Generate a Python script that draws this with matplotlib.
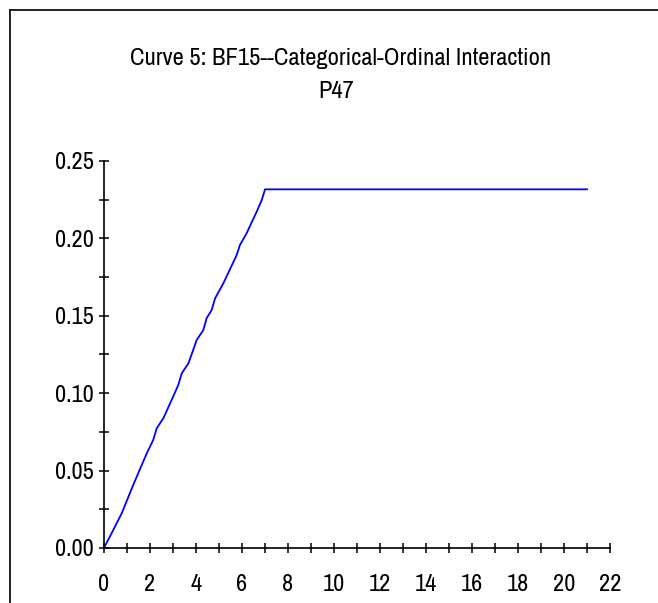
import numpy as np
import matplotlib
matplotlib.use("Agg")
import matplotlib.pyplot as plt
from matplotlib.lines import Line2D
from matplotlib.ticker import MultipleLocator

plt.rcParams['font.family'] = ['Archivo Narrow', 'Liberation Sans', 'DejaVu Sans']

# curve values
x_vals = [0.0, 0.26, 0.77, 1.27, 1.86, 2.14, 2.29, 2.58, 3.01, 3.23, 3.38, 3.67,
          3.88, 4.03, 4.32, 4.46, 4.68, 4.83, 5.19, 5.77, 5.91, 6.2, 6.64, 6.86, 7.0, 21.0]
y_vals = [0.0, 0.0075, 0.0224, 0.0407, 0.0612, 0.0698, 0.0773, 0.0838, 0.0979, 0.1053,
          0.1128, 0.1193, 0.128, 0.1344, 0.1408, 0.1484, 0.1537, 0.1613, 0.171, 0.1893,
          0.1957, 0.2033, 0.2173, 0.2248, 0.2317, 0.2317]
title1 = "Curve 5: BF15--Categorical-Ordinal Interaction"
title2 = "P47"

W, H = 658, 603
fig = plt.figure(figsize=(W / 100, H / 100), dpi=100)
ax = fig.add_axes([104 / W, 1 - 548 / H, (610 - 104) / W, (548 - 161) / H])

ax.plot(x_vals, y_vals, color='#0000ff', lw=1.3, solid_joinstyle='round')

ax.set_xlim(0, 22)
ax.set_ylim(0, 0.25)
ax.xaxis.set_major_locator(MultipleLocator(2))
ax.xaxis.set_minor_locator(MultipleLocator(1))
ax.yaxis.set_major_locator(MultipleLocator(0.05))
ax.yaxis.set_minor_locator(MultipleLocator(0.025))
ax.yaxis.set_major_formatter(plt.FormatStrFormatter('%.2f'))

for s in ['top', 'right']:
    ax.spines[s].set_visible(False)
for s in ['left', 'bottom']:
    ax.spines[s].set_linewidth(1.2)

ax.tick_params(which='both', direction='inout', length=7, width=1.1, color='black')
ax.tick_params(axis='x', which='major', labelsize=17.5, pad=15)
ax.tick_params(axis='y', which='major', labelsize=17.5, pad=4)
for lab in ax.get_xticklabels() + ax.get_yticklabels():
    lab.set_clip_on(False)

fig.text(341 / W, 1 - 65 / H, title1, ha='center', va='baseline', fontsize=17.7)
fig.text(336 / W, 1 - 98 / H, title2, ha='center', va='baseline', fontsize=17.7)

# frame lines on the left and top of the picture
fig.add_artist(Line2D([10 / W, 10 / W], [0, 1 - 10 / H], transform=fig.transFigure,
                      color='black', lw=1.2))
fig.add_artist(Line2D([10 / W, 1], [1 - 10 / H, 1 - 10 / H], transform=fig.transFigure,
                      color='black', lw=1.2))

fig.savefig('out.png', dpi=100)
